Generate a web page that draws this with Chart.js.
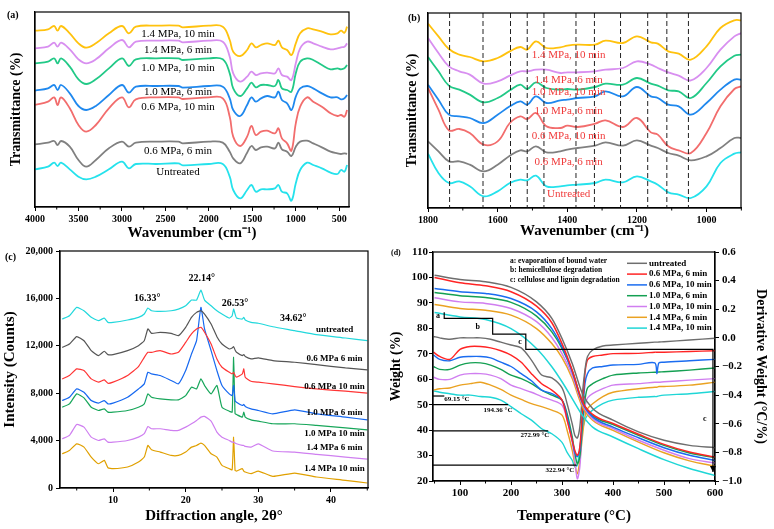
<!DOCTYPE html>
<html>
<head>
<meta charset="utf-8">
<script src="https://cdn.jsdelivr.net/npm/chart.js@4.4.0/dist/chart.umd.min.js"></script>
<style>
  body { margin: 0; background: #fff; width: 774px; height: 529px; position: relative; overflow: hidden; }
  canvas { position: absolute; }
  .tag { position: absolute; font: bold 10px "Liberation Serif", serif; color: #000; }
</style>
</head>
<body>
<canvas id="ca" width="387" height="262" style="left:0;top:0"></canvas>
<canvas id="cb" width="387" height="262" style="left:387px;top:0"></canvas>
<canvas id="cc" width="387" height="287" style="left:0;top:242px"></canvas>
<canvas id="cd" width="387" height="287" style="left:387px;top:242px"></canvas>
<div class="tag" style="left:7px;top:9px">(a)</div>
<div class="tag" style="left:408px;top:12px">(b)</div>
<div class="tag" style="left:5px;top:251px">(c)</div>
<div class="tag" style="left:391px;top:248px;font-size:8px">(d)</div>
<script>
// ---- (a) FTIR full range ----
const ftirWave = [4000, 3850, 3780, 3740, 3700, 3600, 3500, 3410, 3300, 3150, 3000, 2920, 2840, 2600, 2350, 2300, 2000, 1840, 1760, 1720, 1640, 1560, 1510, 1460, 1400, 1330, 1240, 1200, 1160, 1100, 1050, 1000, 950, 870, 800, 700, 600, 520, 480, 440, 410];
const ftirUntreated = [113,121,133,123,133,113,91,83,91,113,136,116,129,129,131,125,129,129,91,51,26,51,66,46,53,53,56,66,46,41,19,71,111,133,126,116,103,99,111,106,126];
const ftir06_6 = [188,193,198,186,198,181,141,121,141,176,196,181,193,196,196,191,196,193,166,146,131,163,183,171,179,181,176,193,173,166,153,181,196,199,191,179,166,161,159,161,159];
const ftir06_10 = [306,316,329,306,329,296,246,226,246,296,329,299,323,329,329,324,329,326,271,211,183,211,243,216,226,229,221,236,206,191,169,251,301,329,316,301,281,273,276,271,291];
const ftir10_6 = [349,356,366,351,366,341,303,291,303,336,366,343,361,363,363,358,363,361,326,291,273,306,329,316,326,333,329,346,321,311,291,331,356,363,356,341,329,329,323,326,336];
const ftir10_10 = [431,436,446,431,446,421,383,369,383,416,446,423,443,446,446,441,446,443,401,356,333,356,373,359,366,366,363,381,356,351,346,401,436,446,441,426,413,416,413,416,426];
const ftir14_6 = [476,481,493,481,493,473,443,431,443,476,501,479,496,499,499,494,499,496,451,401,376,391,406,396,401,403,401,416,396,391,381,431,476,496,491,481,473,476,479,481,491];
const ftir14_10 = [529,533,543,529,543,521,491,478,491,521,543,521,541,544,544,539,544,541,501,466,453,471,491,479,486,491,486,499,479,471,456,491,521,536,533,526,518,521,529,523,541];
const ftirTicks = [4000, 3500, 3000, 2500, 2000, 1500, 1000, 500];
const ftirMinor = [3750, 3250, 2750, 2250, 1750, 1250, 750];
const ftirNames = ['Untreated', '0.6 MPa, 6 min', '0.6 MPa, 10 min', '1.0 MPa, 6 min', '1.0 MPa, 10 min', '1.4 MPa, 6 min', '1.4 MPa, 10 min'];

// ---- (b) FTIR fingerprint ----
const fpWave = [1800, 1770, 1740, 1710, 1680, 1640, 1600, 1565, 1535, 1515, 1490, 1460, 1420, 1400, 1370, 1320, 1290, 1240, 1200, 1160, 1140, 1110, 1080, 1045, 1000, 960, 920, 900];
const fpUntreated = [163,105,75,80,65,35,50,75,85,83,97,65,65,68,70,75,85,77,95,80,70,47,40,30,65,135,163,167];
const fp06_6 = [200,170,140,140,130,110,130,157,173,170,185,167,170,175,180,187,197,187,203,187,180,165,157,143,155,180,210,210];
const fp06_10 = [360,295,233,237,225,190,200,255,275,267,285,245,240,247,243,253,263,243,270,227,220,185,173,165,225,305,357,365];
const fp10_6 = [370,325,280,275,270,255,280,305,320,310,335,315,323,325,330,335,350,335,363,335,330,310,305,280,315,355,385,385];
const fp10_10 = [453,410,367,355,340,317,330,353,370,357,377,360,355,357,355,363,373,370,390,373,367,353,350,330,375,425,457,460];
const fp14_6 = [510,465,425,410,400,373,380,397,410,410,415,415,405,407,407,410,415,420,440,430,420,407,397,383,420,475,515,525];
const fp14_10 = [553,515,477,460,453,440,450,470,483,475,500,480,482,487,490,490,502,495,515,497,493,470,463,445,485,540,563,563];
const fpBands = [1738, 1642, 1563, 1515, 1467, 1375, 1322, 1247, 1169, 1114, 1052];
const fpTicks = [1800, 1600, 1400, 1200, 1000];
const fpMinor = [1700, 1500, 1300, 1100, 900];

// ---- (c) XRD ----
const xrdAngle = [3, 4, 5, 6, 7, 8, 8.8, 9.3, 10, 12, 13.5, 14.3, 14.8, 15.3, 16.5, 18, 19, 20, 20.8, 21.5, 22.1, 22.6, 23.5, 24.3, 25, 26, 26.4, 26.6, 26.8, 27, 27.8, 28, 28.2, 29, 30, 32, 35, 38, 42, 45];
const xrdUntreated = [14260,14540,15240,14960,14400,14120,14340,13980,13980,14180,14400,14680,15190,14960,14900,14960,15100,15380,15860,15860,16700,15860,15380,14960,14680,14340,14540,15100,14680,14340,14260,14400,14180,13980,13900,13610,13280,12940,12660,12430];
const xrd06_6 = [11870,12150,12770,12430,11590,11170,11540,11260,11260,11590,12010,12430,13420,13050,13140,13050,12860,13560,14400,14820,14960,14680,13840,12770,12150,11730,11820,11930,11650,11450,11170,11260,11090,10890,10980,10750,10610,10410,10130,9970];
const xrd06_10 = [9210,9490,10050,9910,9210,8930,9120,8840,8930,9490,10250,11030,11450,11450,11590,11310,11450,12290,13000,13420,13560,13140,12150,10890,10190,9770,9630,9770,9490,9350,9630,10050,9350,9010,8930,8790,8560,8360,8170,8000];
const xrd10_6 = [7380,7660,8360,8080,7380,7160,7380,7100,7160,7660,8360,8790,9770,9630,9490,9070,8790,9910,11310,12430,15240,13420,11590,9910,8650,7940,7800,8650,7380,7240,6960,7050,6880,6680,6540,6260,6600,6260,5980,5750];
const xrd10_10 = [6820,7100,7940,7610,6820,6540,6680,6400,6400,6540,6820,7100,7940,7660,7520,7440,7440,7800,8510,8360,9210,8650,7940,8650,6820,6480,6400,11030,6260,6200,5980,6400,5980,5750,5640,5420,5420,5280,5080,4910];
const xrd14_6 = [4150,4440,5360,5140,4290,4010,4150,3870,3870,4010,4290,4580,5190,5000,5000,4860,4860,5140,5420,5700,5980,6040,5640,4720,4290,4010,3870,3870,3790,3730,3590,3590,3510,3450,3730,3120,3030,2840,2610,2440];
const xrd14_10 = [2890,3170,3730,3450,2610,2050,2330,1710,1630,1770,2190,2610,3590,3230,3030,2750,2750,3030,3450,3590,3790,3590,2890,2610,1910,1630,1540,4290,1490,1430,1630,1430,1350,1210,1430,980,1260,930,650,420];
const xrdNames = ['untreated', '0.6 MPa 6 min', '0.6 MPa 10 min', '1.0 MPa 6 min', '1.0 MPa 10 min', '1.4 MPa 6 min', '1.4 MPa 10 min'];
const xrdPeaks = ['16.33°', '22.14°', '26.53°', '34.62°'];
const xrdXTicks = [10, 20, 30, 40];
const xrdMinor = [5, 15, 25, 35, 45];
const xrdYTicks = [0, 4000, 8000, 12000, 16000, 20000];

// ---- (d) TGA / DTG ----
const tgaTemp = [50, 100, 150, 200, 250, 280, 300, 320, 340, 360, 400, 450, 500, 550, 600];
const tgaUntreated = [100.9, 99.2, 98.3, 96.1, 90.4, 83.9, 76, 66.2, 54.4, 48.5, 43.9, 39.3, 36, 34, 33.1];
const tga06_6 = [100, 97.9, 96.7, 94.4, 88.7, 82.2, 74, 63.5, 51.1, 46.2, 42.6, 38.4, 34.4, 31.4, 29.4];
const tga06_10 = [95.7, 94.4, 93.7, 91.7, 86.5, 79.9, 72.7, 62.9, 50.7, 45.2, 41.2, 37, 33.1, 30.1, 28.1];
const tga10_6 = [94.1, 92.8, 92.1, 90.2, 84.8, 78.6, 72.1, 63.3, 51.1, 45.7, 42.2, 38, 34, 31, 29.2];
const tga10_10 = [92, 90.4, 89.8, 87.8, 82.6, 76.4, 70.1, 61.6, 50.2, 44.5, 40.6, 36, 32.1, 28.8, 27.1];
const tga14_6 = [89.4, 87.8, 87.1, 85.2, 79.9, 74, 68.5, 60.3, 49.1, 43.9, 39.9, 35.3, 31.1, 27.9, 25.8];
const tga14_10 = [86.2, 84.5, 83.5, 79.9, 72.1, 64.9, 59, 52.4, 45.8, 41.2, 37.3, 32.7, 28.4, 24.9, 22.2];
const dtgTemp = [48, 60, 80, 100, 120, 140, 160, 180, 200, 220, 240, 260, 280, 300, 310, 320, 325, 330, 335, 340, 345, 350, 360, 380, 400, 450, 482, 486, 490, 500, 550, 600];
const dtgUntreated = [0.01, 0.00, -0.01, 0.00, 0.00, 0.00, -0.01, -0.03, -0.05, -0.07, -0.155, -0.26, -0.28, -0.35, -0.46, -0.60, -0.68, -0.70, -0.62, -0.39, -0.225, -0.13, -0.085, -0.057, -0.05, -0.038, -0.03, -0.03, -0.029, -0.027, -0.015, -0.003];
const dtg06_6 = [-0.10, -0.13, -0.15, -0.08, -0.06, -0.06, -0.07, -0.09, -0.12, -0.17, -0.25, -0.32, -0.365, -0.435, -0.575, -0.715, -0.785, -0.82, -0.76, -0.505, -0.25, -0.155, -0.13, -0.12, -0.11, -0.108, -0.10, -0.10, -0.10, -0.10, -0.095, -0.09];
const dtg06_10 = [-0.12, -0.15, -0.16, -0.135, -0.13, -0.13, -0.14, -0.17, -0.20, -0.25, -0.30, -0.365, -0.39, -0.435, -0.55, -0.715, -0.80, -0.83, -0.785, -0.55, -0.32, -0.25, -0.21, -0.20, -0.19, -0.185, -0.175, -0.25, -0.175, -0.17, -0.16, -0.15];
const dtg10_6 = [-0.20, -0.22, -0.22, -0.19, -0.175, -0.175, -0.19, -0.22, -0.26, -0.285, -0.32, -0.365, -0.40, -0.435, -0.53, -0.69, -0.80, -0.88, -0.83, -0.62, -0.435, -0.35, -0.32, -0.285, -0.26, -0.245, -0.24, -0.24, -0.238, -0.237, -0.225, -0.21];
const dtg10_10 = [-0.275, -0.29, -0.29, -0.26, -0.25, -0.25, -0.26, -0.285, -0.33, -0.355, -0.38, -0.41, -0.435, -0.47, -0.575, -0.73, -0.855, -0.985, -0.90, -0.62, -0.48, -0.42, -0.39, -0.355, -0.33, -0.32, -0.31, -0.31, -0.31, -0.307, -0.295, -0.285];
const dtg14_6 = [-0.365, -0.355, -0.35, -0.33, -0.32, -0.31, -0.33, -0.36, -0.40, -0.43, -0.46, -0.48, -0.505, -0.54, -0.645, -0.785, -0.88, -0.95, -0.855, -0.69, -0.55, -0.495, -0.46, -0.41, -0.38, -0.355, -0.345, -0.345, -0.34, -0.34, -0.33, -0.31];
const dtg14_10 = [-0.37, -0.38, -0.39, -0.40, -0.40, -0.41, -0.415, -0.435, -0.48, -0.53, -0.575, -0.635, -0.67, -0.73, -0.80, -0.855, -0.90, -0.89, -0.76, -0.645, -0.575, -0.54, -0.505, -0.46, -0.435, -0.415, -0.41, -0.41, -0.405, -0.40, -0.39, -0.375];
const tgaNames = ['untreated', '0.6 MPa, 6 min', '0.6 MPa, 10 min', '1.0 MPa, 6 min', '1.0 MPa, 10 min', '1.4 MPa, 6 min', '1.4 MPa, 10 min'];
const tgaXTicks = [100, 200, 300, 400, 500, 600];
const tgaMinor = [50, 150, 250, 350, 450, 550];
const tgaYTicks = [20, 30, 40, 50, 60, 70, 80, 90, 100, 110];
const dtgYTicks = [-1.0, -0.8, -0.6, -0.4, -0.2, 0.0, 0.2, 0.4, 0.6];
const stageNotes = ['a: evaporation of bound water', 'b: hemicellulose degradation', 'c: cellulose and lignin degradation'];
const stepTemp = [69, 164, 229, 596];
const stepWeight = [86.3, 83.9, 77.7, 71.7, 23.5];
const markTemp = [69.15, 194.36, 272.99, 328.8];
const markWeight = [53.4, 50.0, 39.7, 26.2];
const markText = ['69.15 °C', '194.36 °C', '272.99 °C', '322.94 °C'];

// ---- helpers ----
const serif = '"Liberation Serif", "Times New Roman", serif';
const bold = s => ({ family: serif, size: s, weight: 'bold' });
const pts = (xs, ys) => xs.map((x, i) => ({ x, y: ys[i] }));
const fixed = list => s => { s.ticks = list.map(v => ({ value: v })); };

function line(xs, ys, color, width, extra) {
  return Object.assign({ data: pts(xs, ys), borderColor: color, borderWidth: width,
    pointRadius: 0, fill: false, tension: 0.4 }, extra || {});
}

function axis(o) {
  return {
    type: 'linear', position: o.pos, min: o.min, max: o.max, reverse: !!o.reverse,
    afterBuildTicks: o.ticks ? fixed(o.ticks) : undefined,
    afterFit: s => { if (o.pos === 'bottom') s.height = o.size; else s.width = o.size; },
    ticks: { display: !!o.ticks, color: '#000', font: bold(o.tf || 10), padding: o.tp || 2,
      maxRotation: 0, autoSkip: false, callback: o.fmt || (v => v) },
    grid: { display: !!o.ticks, drawOnChartArea: false, drawTicks: true, tickLength: 4, color: '#000', lineWidth: 1 },
    border: { display: true, color: '#000', width: 1.2 },
    title: { display: true, text: o.title, color: '#000', font: bold(o.ttf || 15), padding: 0 }
  };
}

const frame = { id: 'frame', afterDraw(c) {
  const { ctx, chartArea: a } = c;
  ctx.save(); ctx.strokeStyle = '#000'; ctx.lineWidth = 1.2;
  ctx.strokeRect(a.left, a.top, a.right - a.left, a.bottom - a.top); ctx.restore();
} };

function minor(vals) {
  return { id: 'minor', afterDraw(c) {
    const { ctx, chartArea: a, scales: { x } } = c;
    ctx.save(); ctx.strokeStyle = '#000'; ctx.lineWidth = 1;
    vals.forEach(v => {
      const px = x.getPixelForValue(v);
      if (px < a.left - 0.5 || px > a.right + 0.5) return;
      ctx.beginPath(); ctx.moveTo(px, a.bottom); ctx.lineTo(px, a.bottom + 2.5); ctx.stroke();
    });
    ctx.restore();
  } };
}

function labels(items) {
  return { id: 'labels', afterDatasetsDraw(c) {
    const { ctx, scales } = c;
    ctx.save(); ctx.textBaseline = 'middle';
    items.forEach(t => {
      ctx.font = t.font; ctx.fillStyle = t.color || '#000'; ctx.textAlign = t.align || 'center';
      ctx.fillText(t.text, scales.x.getPixelForValue(t.x), scales.y.getPixelForValue(t.y));
    });
    ctx.restore();
  } };
}

function base(pad, scales) {
  return { responsive: false, animation: false, layout: { padding: pad },
    plugins: { legend: { display: false }, tooltip: { enabled: false } }, scales };
}

// ---- (a) ----
const aColors = ['#25e2ec', '#808080', '#f26d6d', '#1f88ee', '#22c987', '#d88ff0', '#ffc20e'];
const aSeries = [ftirUntreated, ftir06_6, ftir06_10, ftir10_6, ftir10_10, ftir14_6, ftir14_10];
const aLabelY = [105, 168, 300, 345, 417, 471, 519];
new Chart(document.getElementById('ca'), {
  type: 'line',
  data: { datasets: aSeries.map((s, i) => line(ftirWave, s, aColors[i], 1.8)) },
  options: base({ left: 8, right: 38, top: 12, bottom: 20 }, {
    x: axis({ pos: 'bottom', min: 388, max: 4000, reverse: true, ticks: ftirTicks, size: 35, title: 'Wavenumber (cm⁻¹)' }),
    y: axis({ pos: 'left', min: 0, max: 585, size: 27, title: 'Transmittance (%)', ttf: 14 })
  }),
  plugins: [frame, minor(ftirMinor), labels(ftirNames.map((n, i) => ({ text: n, x: 2355, y: aLabelY[i], font: '11px ' + serif })))]
});

// ---- (b) ----
const bSeries = [fpUntreated, fp06_6, fp06_10, fp10_6, fp10_10, fp14_6, fp14_10];
const bLabelY = [43, 139, 217, 292, 349, 385, 460];
const bands = { id: 'bands', afterDatasetsDraw(c) {
  const { ctx, chartArea: a, scales } = c;
  ctx.save(); ctx.strokeStyle = '#222'; ctx.lineWidth = 1; ctx.setLineDash([5, 3]);
  fpBands.forEach(w => { const x = scales.x.getPixelForValue(w);
    ctx.beginPath(); ctx.moveTo(x, a.top); ctx.lineTo(x, a.bottom); ctx.stroke(); });
  ctx.restore();
} };
new Chart(document.getElementById('cb'), {
  type: 'line',
  data: { datasets: bSeries.map((s, i) => line(fpWave, s, aColors[i], 1.8)) },
  options: base({ left: 17, right: 33, top: 13, bottom: 22 }, {
    x: axis({ pos: 'bottom', min: 901, max: 1800, reverse: true, ticks: fpTicks, size: 32, title: 'Wavenumber (cm⁻¹)' }),
    y: axis({ pos: 'left', min: 0, max: 585, size: 24, title: 'Transmittance (%)', ttf: 14 })
  }),
  plugins: [frame, bands, minor(fpMinor), labels(ftirNames.map((n, i) => ({ text: n, x: 1396, y: bLabelY[i], font: '11px ' + serif, color: '#f03a3a' })))]
});

// ---- (c) ----
const cColors = ['#22d8dc', '#555555', '#ff3535', '#1668f0', '#17a65a', '#cf7ff0', '#e0a000'];
const cSeries = [xrdUntreated, xrd06_6, xrd06_10, xrd10_6, xrd10_10, xrd14_6, xrd14_10];
const cLabelY = [13364, 10947, 8564, 6375, 4606, 3427, 1659];
const cPeakX = [14.7, 22.2, 26.8, 34.8];
const cPeakY = [15975, 17660, 15555, 14290];
const thousands = v => String(v).replace(/\B(?=(\d{3})+(?!\d))/g, ',');
new Chart(document.getElementById('cc'), {
  type: 'line',
  data: { datasets: cSeries.map((s, i) => line(xrdAngle, s, cColors[i], 1.2, { tension: 0.15 })) },
  options: base({ left: 1, right: 19, top: 8, bottom: 4 }, {
    x: axis({ pos: 'bottom', min: 2.7, max: 45.1, ticks: xrdXTicks, size: 37, title: 'Diffraction angle, 2θ°' }),
    y: axis({ pos: 'left', min: 0, max: 20000, ticks: xrdYTicks, size: 59, tp: 3, title: 'Intensity (Counts)', fmt: thousands })
  }),
  plugins: [frame, minor(xrdMinor), labels(
    xrdNames.map((n, i) => ({ text: n, x: 40.5, y: cLabelY[i], font: 'bold 9px ' + serif }))
      .concat(xrdPeaks.map((n, i) => ({ text: n, x: cPeakX[i], y: cPeakY[i], font: 'bold 10px ' + serif }))))]
});

// ---- (d) ----
const dColors = ['#6e6e6e', '#ff2424', '#1a6cf0', '#14a052', '#d07ef0', '#eaa222', '#1fd6d6'];
const tgaSeries = [tgaUntreated, tga06_6, tga06_10, tga10_6, tga10_10, tga14_6, tga14_10];
const dtgSeries = [dtgUntreated, dtg06_6, dtg06_10, dtg10_6, dtg10_10, dtg14_6, dtg14_10];
const markLabelX = [94, 174.5, 247, 296];
const markLabelY = [52.2, 47.8, 38, 24.2];
const stepLabels = [['a', 57, 84.8], ['b', 134.7, 80.6], ['c', 217.6, 74.7], ['c', 580, 44.3]];
const tgaDecor = { id: 'tgaDecor', afterDatasetsDraw(c) {
  const { ctx, chartArea: a, scales: { x, y } } = c;
  ctx.save(); ctx.strokeStyle = '#000'; ctx.fillStyle = '#000'; ctx.lineWidth = 1.2;
  // staircase of stages
  ctx.beginPath();
  ctx.moveTo(x.getPixelForValue(stepTemp[0]), y.getPixelForValue(stepWeight[0]));
  stepTemp.forEach((t, i) => {
    const px = x.getPixelForValue(t);
    ctx.lineTo(px, y.getPixelForValue(stepWeight[i + 1]));
    if (i < stepTemp.length - 1) ctx.lineTo(x.getPixelForValue(stepTemp[i + 1]), y.getPixelForValue(stepWeight[i + 1]));
  });
  ctx.stroke();
  const ax = x.getPixelForValue(stepTemp[3]), ay = y.getPixelForValue(stepWeight[4]);
  ctx.beginPath(); ctx.moveTo(ax - 3, ay - 6); ctx.lineTo(ax, ay); ctx.lineTo(ax + 3, ay - 6); ctx.closePath(); ctx.fill();
  // onset temperature lines
  markTemp.forEach((t, i) => {
    const py = y.getPixelForValue(markWeight[i]);
    ctx.beginPath(); ctx.moveTo(a.left, py); ctx.lineTo(x.getPixelForValue(t), py); ctx.stroke();
  });
  ctx.textBaseline = 'middle'; ctx.textAlign = 'center';
  ctx.font = 'bold 7px ' + serif;
  markText.forEach((s, i) => ctx.fillText(s, x.getPixelForValue(markLabelX[i]), y.getPixelForValue(markLabelY[i])));
  ctx.font = 'bold 8px ' + serif;
  stepLabels.forEach(l => ctx.fillText(l[0], x.getPixelForValue(l[1]), y.getPixelForValue(l[2])));
  // stage notes
  ctx.textAlign = 'left'; ctx.font = 'bold 7.5px ' + serif;
  stageNotes.forEach((s, i) => ctx.fillText(s, a.left + 77, a.top + 9 + i * 9.5));
  // legend
  ctx.font = 'bold 9px ' + serif;
  tgaNames.forEach((n, i) => {
    const ly = a.top + 11.3 + i * 10.8;
    ctx.strokeStyle = dColors[i]; ctx.lineWidth = 1.5;
    ctx.beginPath(); ctx.moveTo(a.left + 194, ly); ctx.lineTo(a.left + 214, ly); ctx.stroke();
    ctx.fillText(n, a.left + 216, ly);
  });
  ctx.restore();
} };
const minus = v => v.toFixed(1).replace('-', '−');
const dSets = tgaSeries.map((s, i) => line(tgaTemp, s, dColors[i], 1.5, { cubicInterpolationMode: 'monotone', yAxisID: 'y' }))
  .concat(dtgSeries.map((s, i) => line(dtgTemp, s, dColors[i], 1.4, { tension: 0.3, yAxisID: 'y2' })));
new Chart(document.getElementById('cd'), {
  type: 'line',
  data: { datasets: dSets },
  options: base({ left: 1, right: 5, top: 10, bottom: 4 }, {
    x: axis({ pos: 'bottom', min: 47, max: 600, ticks: tgaXTicks, size: 44, tf: 11, title: 'Temperature (°C)' }),
    y: axis({ pos: 'left', min: 20, max: 110, ticks: tgaYTicks, size: 45, tf: 11, tp: 1, title: 'Weight (%)', ttf: 14 }),
    y2: axis({ pos: 'right', min: -1.0, max: 0.6, ticks: dtgYTicks, size: 54, tf: 11, tp: 3, title: 'Derivative Weight (°C/%)', ttf: 14, fmt: minus })
  }),
  plugins: [frame, minor(tgaMinor), tgaDecor]
});
</script>
</body>
</html>
